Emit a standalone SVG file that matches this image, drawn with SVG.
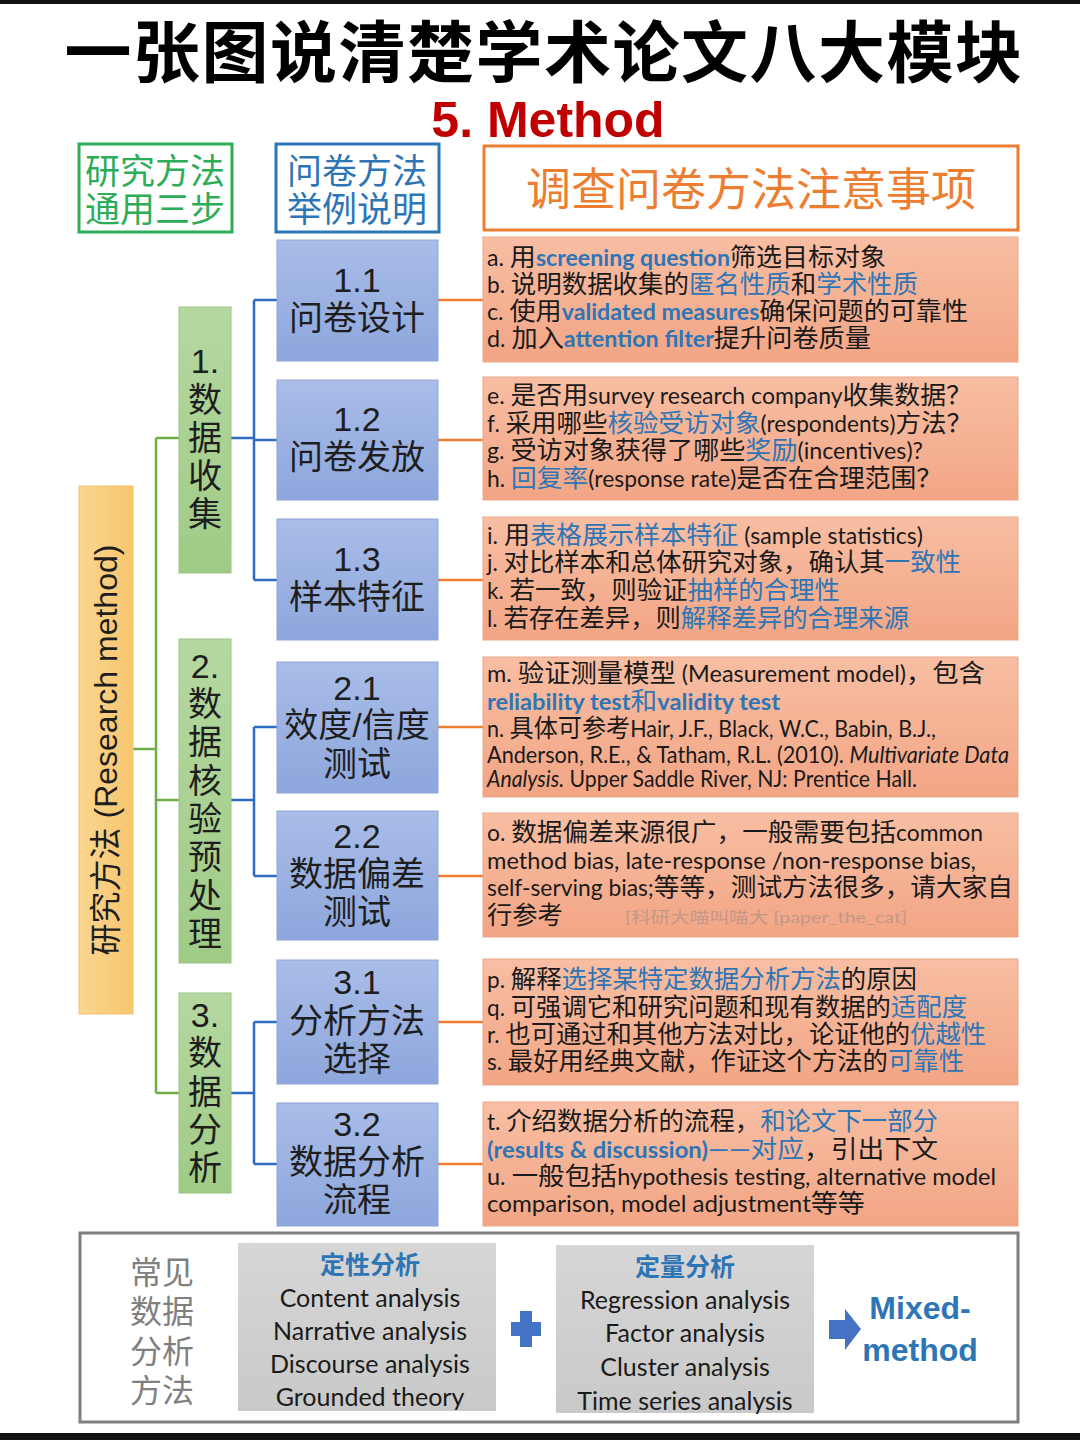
<svg xmlns="http://www.w3.org/2000/svg" width="1080" height="1440" viewBox="0 0 1080 1440">
<defs>
<linearGradient id="gBlue" x1="0" y1="0" x2="0" y2="1"><stop offset="0" stop-color="#A9BDE8"/><stop offset="1" stop-color="#8DA6DC"/></linearGradient>
<linearGradient id="gGreen" x1="0" y1="0" x2="0" y2="1"><stop offset="0" stop-color="#B5D8A0"/><stop offset="1" stop-color="#9FCB86"/></linearGradient>
<linearGradient id="gYellow" x1="0" y1="0" x2="1" y2="0"><stop offset="0" stop-color="#FBD690"/><stop offset="1" stop-color="#F7C56E"/></linearGradient>
<linearGradient id="gOrange" x1="0" y1="0" x2="0" y2="1"><stop offset="0" stop-color="#F8BEA3"/><stop offset="1" stop-color="#F2A585"/></linearGradient>
<linearGradient id="gGray" x1="0" y1="0" x2="0" y2="1"><stop offset="0" stop-color="#D6D6D6"/><stop offset="1" stop-color="#C9C9C9"/></linearGradient>
<style>
.cjk{font-family:"Noto Sans CJK SC","Liberation Sans",sans-serif}
.bx{font-family:"Liberation Sans","Noto Sans CJK SC",sans-serif;font-size:34px;fill:#1E1E1E;text-anchor:middle;dominant-baseline:central}
.st{font-family:"Liberation Sans","Noto Sans CJK SC",sans-serif;font-size:34px;fill:#1E1E1E;text-anchor:middle;dominant-baseline:central}
.tx{font-family:"Lato","Noto Sans CJK SC",sans-serif;font-size:22.5px;fill:#1A1A1A}
.c{font-size:25.3px}
.b{fill:#2E75B6}
.bb{fill:#2E75B6;font-weight:bold}
.it{font-style:italic}
.ob{fill:url(#gOrange);stroke:#E8A88A;stroke-width:1}
.blb{fill:url(#gBlue);stroke:#8FA5D4;stroke-width:1}
.gb{fill:url(#gGreen);stroke:#9CC486;stroke-width:1}
.lg{fill:none;stroke:#70AD47;stroke-width:2.5}
.lb{fill:none;stroke:#2F6DC0;stroke-width:2.5}
.lo{fill:none;stroke:#ED7D31;stroke-width:2.5}
.an{font-family:"Lato","Liberation Sans",sans-serif;font-size:25px;fill:#1A1A1A;text-anchor:middle;dominant-baseline:central}
</style>
</defs>
<rect x="0" y="0" width="1080" height="1440" fill="#FFFFFF"/>
<rect x="0" y="0" width="1080" height="4" fill="#111111"/>
<rect x="0" y="1433" width="1080" height="7" fill="#111111"/>

<g id="title">
<text x="544" y="47" class="cjk" font-size="67" font-weight="700" letter-spacing="1.5" text-anchor="middle" dominant-baseline="central" fill="#000000">一张图说清楚学术论文八大模块</text>
<text x="548" y="120" font-family="Liberation Sans,sans-serif" font-size="50" font-weight="bold" text-anchor="middle" dominant-baseline="central" fill="#C00000">5. Method</text>
</g>

<g id="hdr-green">
<rect x="79" y="144" width="153" height="88" fill="#FFFFFF" stroke="#2EAD58" stroke-width="3"/>
<text x="155" y="168" class="cjk" font-size="35" fill="#2EAD58" text-anchor="middle" dominant-baseline="central">研究方法</text>
<text x="155" y="206" class="cjk" font-size="35" fill="#2EAD58" text-anchor="middle" dominant-baseline="central">通用三步</text>
</g>
<g id="hdr-blue">
<rect x="276" y="144" width="163" height="88" fill="#FFFFFF" stroke="#2E75B6" stroke-width="3"/>
<text x="357" y="168" class="cjk" font-size="35" fill="#2E75B6" text-anchor="middle" dominant-baseline="central">问卷方法</text>
<text x="357" y="206" class="cjk" font-size="35" fill="#2E75B6" text-anchor="middle" dominant-baseline="central">举例说明</text>
</g>
<g id="hdr-orange">
<rect x="484" y="146" width="534" height="84" fill="#FFFFFF" stroke="#ED7D31" stroke-width="3"/>
<text x="751" y="186" class="cjk" font-size="45" fill="#ED7D31" text-anchor="middle" dominant-baseline="central">调查问卷方法注意事项</text>
</g>

<g id="connectors">
<path class="lg" d="M133 749 H156 M156 438 V1093 M156 438 H179 M156 800 H179 M156 1093 H179"/>
<path class="lb" d="M231 438 H254 M254 300 V580 M254 300 H277 M254 440 H277 M254 580 H277"/>
<path class="lb" d="M231 800 H254 M254 727 V876 M254 727 H277 M254 876 H277"/>
<path class="lb" d="M231 1093 H254 M254 1022 V1164 M254 1022 H277 M254 1164 H277"/>
<path class="lo" d="M438 300 H483 M438 440 H483 M438 580 H483 M438 727 H483 M438 876 H483 M438 1022 H483 M438 1164 H483"/>
</g>

<g id="root">
<rect x="79" y="486" width="54" height="528" fill="url(#gYellow)" stroke="#F2C46E" stroke-width="1"/>
<text transform="translate(106 750) rotate(-90)" x="0" y="0" font-family="Liberation Sans,Noto Sans CJK SC,sans-serif" font-size="32" fill="#1E1E1E" text-anchor="middle" dominant-baseline="central">研究方法 (Research method)</text>
</g>

<g id="step1">
<rect x="179" y="307" width="52" height="266" class="gb"/>
<text class="st" x="205" y="361">1.</text><text class="st" x="205" y="400">数</text><text class="st" x="205" y="438">据</text><text class="st" x="205" y="476">收</text><text class="st" x="205" y="514">集</text>
</g>
<g id="step2">
<rect x="179" y="639" width="52" height="324" class="gb"/>
<text class="st" x="205" y="666">2.</text><text class="st" x="205" y="704">数</text><text class="st" x="205" y="742">据</text><text class="st" x="205" y="781">核</text><text class="st" x="205" y="819">验</text><text class="st" x="205" y="857">预</text><text class="st" x="205" y="896">处</text><text class="st" x="205" y="934">理</text>
</g>
<g id="step3">
<rect x="179" y="993" width="52" height="200" class="gb"/>
<text class="st" x="205" y="1015">3.</text><text class="st" x="205" y="1053">数</text><text class="st" x="205" y="1092">据</text><text class="st" x="205" y="1130">分</text><text class="st" x="205" y="1168">析</text>
</g>

<g id="n11"><rect x="277" y="240" width="161" height="121" class="blb"/><text class="bx" x="357" y="280">1.1</text><text class="bx" x="357" y="318">问卷设计</text></g>
<g id="n12"><rect x="277" y="380" width="161" height="120" class="blb"/><text class="bx" x="357" y="419">1.2</text><text class="bx" x="357" y="457">问卷发放</text></g>
<g id="n13"><rect x="277" y="519" width="161" height="121" class="blb"/><text class="bx" x="357" y="559">1.3</text><text class="bx" x="357" y="597">样本特征</text></g>
<g id="n21"><rect x="277" y="662" width="161" height="131" class="blb"/><text class="bx" x="357" y="688">2.1</text><text class="bx" x="357" y="725">效度/信度</text><text class="bx" x="357" y="764">测试</text></g>
<g id="n22"><rect x="277" y="811" width="161" height="129" class="blb"/><text class="bx" x="357" y="836">2.2</text><text class="bx" x="357" y="874">数据偏差</text><text class="bx" x="357" y="912">测试</text></g>
<g id="n31"><rect x="277" y="960" width="161" height="124" class="blb"/><text class="bx" x="357" y="982">3.1</text><text class="bx" x="357" y="1021">分析方法</text><text class="bx" x="357" y="1059">选择</text></g>
<g id="n32"><rect x="277" y="1103" width="161" height="123" class="blb"/><text class="bx" x="357" y="1124">3.2</text><text class="bx" x="357" y="1162">数据分析</text><text class="bx" x="357" y="1200">流程</text></g>

<g id="o1"><rect x="483" y="237" width="535" height="125" class="ob"/>
<text class="tx" x="487" y="266" textLength="399" lengthAdjust="spacingAndGlyphs">a. <tspan class="c">用</tspan><tspan class="bb">screening question</tspan><tspan class="c">筛选目标对象</tspan></text>
<text class="tx" x="487" y="293" textLength="431" lengthAdjust="spacingAndGlyphs">b. <tspan class="c">说明数据收集的</tspan><tspan class="c b">匿名性质</tspan><tspan class="c">和</tspan><tspan class="c b">学术性质</tspan></text>
<text class="tx" x="487" y="320" textLength="481" lengthAdjust="spacingAndGlyphs">c. <tspan class="c">使用</tspan><tspan class="bb">validated measures</tspan><tspan class="c">确保问题的可靠性</tspan></text>
<text class="tx" x="487" y="347" textLength="384" lengthAdjust="spacingAndGlyphs">d. <tspan class="c">加入</tspan><tspan class="bb">attention filter</tspan><tspan class="c">提升问卷质量</tspan></text>
</g>
<g id="o2"><rect x="483" y="377" width="535" height="123" class="ob"/>
<text class="tx" x="487" y="404" textLength="485" lengthAdjust="spacingAndGlyphs">e. <tspan class="c">是否用</tspan>survey research company<tspan class="c">收集数据？</tspan></text>
<text class="tx" x="487" y="432" textLength="485" lengthAdjust="spacingAndGlyphs">f. <tspan class="c">采用哪些</tspan><tspan class="c b">核验受访对象</tspan>(respondents)<tspan class="c">方法？</tspan></text>
<text class="tx" x="487" y="459" textLength="436" lengthAdjust="spacingAndGlyphs">g. <tspan class="c">受访对象获得了哪些</tspan><tspan class="c b">奖励</tspan>(incentives)?</text>
<text class="tx" x="487" y="487" textLength="455" lengthAdjust="spacingAndGlyphs">h. <tspan class="c b">回复率</tspan>(response rate)<tspan class="c">是否在合理范围？</tspan></text>
</g>
<g id="o3"><rect x="483" y="517" width="535" height="123" class="ob"/>
<text class="tx" x="487" y="544" textLength="436" lengthAdjust="spacingAndGlyphs">i. <tspan class="c">用</tspan><tspan class="c b">表格展示样本特征</tspan> (sample statistics)</text>
<text class="tx" x="487" y="571" textLength="474" lengthAdjust="spacingAndGlyphs">j. <tspan class="c">对比样本和总体研究对象，确认其</tspan><tspan class="c b">一致性</tspan></text>
<text class="tx" x="487" y="599" textLength="353" lengthAdjust="spacingAndGlyphs">k. <tspan class="c">若一致，则验证</tspan><tspan class="c b">抽样的合理性</tspan></text>
<text class="tx" x="487" y="627" textLength="422" lengthAdjust="spacingAndGlyphs">l. <tspan class="c">若存在差异，则</tspan><tspan class="c b">解释差异的合理来源</tspan></text>
</g>
<g id="o4"><rect x="483" y="657" width="535" height="140" class="ob"/>
<text class="tx" x="487" y="682" textLength="498" lengthAdjust="spacingAndGlyphs">m. <tspan class="c">验证测量模型</tspan> (Measurement model)<tspan class="c">，包含</tspan></text>
<text class="tx" x="487" y="710" textLength="293" lengthAdjust="spacingAndGlyphs"><tspan class="bb">reliability test</tspan><tspan class="c b">和</tspan><tspan class="bb">validity test</tspan></text>
<text class="tx" x="487" y="737" textLength="449" lengthAdjust="spacingAndGlyphs">n. <tspan class="c">具体可参考</tspan>Hair, J.F., Black, W.C., Babin, B.J.,</text>
<text class="tx" x="487" y="763" textLength="522" lengthAdjust="spacingAndGlyphs">Anderson, R.E., &amp; Tatham, R.L. (2010). <tspan class="it">Multivariate Data</tspan></text>
<text class="tx" x="487" y="787" textLength="430" lengthAdjust="spacingAndGlyphs"><tspan class="it">Analysis.</tspan> Upper Saddle River, NJ: Prentice Hall.</text>
</g>
<g id="o5"><rect x="483" y="813" width="535" height="124" class="ob"/>
<text class="tx" x="487" y="841" textLength="496" lengthAdjust="spacingAndGlyphs">o. <tspan class="c">数据偏差来源很广，一般需要包括</tspan>common</text>
<text class="tx" x="487" y="869" textLength="489" lengthAdjust="spacingAndGlyphs">method bias, late-response /non-response bias,</text>
<text class="tx" x="487" y="896" textLength="526" lengthAdjust="spacingAndGlyphs">self-serving bias;<tspan class="c">等等，测试方法很多，请大家自</tspan></text>
<text class="tx" x="487" y="924"><tspan class="c">行参考</tspan></text>
<text x="625" y="923" font-family="Lato,Noto Sans CJK SC,sans-serif" font-size="16" fill="#C39888" textLength="282" lengthAdjust="spacingAndGlyphs">[科研大喵叫喵大 [paper_the_cat]</text>
</g>
<g id="o6"><rect x="483" y="959" width="535" height="126" class="ob"/>
<text class="tx" x="487" y="988" textLength="430" lengthAdjust="spacingAndGlyphs">p. <tspan class="c">解释</tspan><tspan class="c b">选择某特定数据分析方法</tspan><tspan class="c">的原因</tspan></text>
<text class="tx" x="487" y="1016" textLength="480" lengthAdjust="spacingAndGlyphs">q. <tspan class="c">可强调它和研究问题和现有数据的</tspan><tspan class="c b">适配度</tspan></text>
<text class="tx" x="487" y="1043" textLength="499" lengthAdjust="spacingAndGlyphs">r. <tspan class="c">也可通过和其他方法对比，论证他的</tspan><tspan class="c b">优越性</tspan></text>
<text class="tx" x="487" y="1070" textLength="477" lengthAdjust="spacingAndGlyphs">s. <tspan class="c">最好用经典文献，作证这个方法的</tspan><tspan class="c b">可靠性</tspan></text>
</g>
<g id="o7"><rect x="483" y="1102" width="535" height="124" class="ob"/>
<text class="tx" x="487" y="1130" textLength="451" lengthAdjust="spacingAndGlyphs">t. <tspan class="c">介绍数据分析的流程，</tspan><tspan class="c b">和论文下一部分</tspan></text>
<text class="tx" x="487" y="1158" textLength="451" lengthAdjust="spacingAndGlyphs"><tspan class="bb">(results &amp; discussion)</tspan><tspan class="c b">——对应</tspan><tspan class="c">，引出下文</tspan></text>
<text class="tx" x="487" y="1185" textLength="509" lengthAdjust="spacingAndGlyphs">u. <tspan class="c">一般包括</tspan>hypothesis testing, alternative model</text>
<text class="tx" x="487" y="1212" textLength="378" lengthAdjust="spacingAndGlyphs">comparison,  model adjustment<tspan class="c">等等</tspan></text>
</g>

<g id="bottom">
<rect x="80" y="1233" width="938" height="189" fill="#FFFFFF" stroke="#7F7F7F" stroke-width="3"/>
<g class="cjk" font-size="32" fill="#808080" text-anchor="middle" dominant-baseline="central">
<text x="162" y="1270">常见</text><text x="162" y="1309">数据</text><text x="162" y="1349">分析</text><text x="162" y="1388">方法</text>
</g>
<g id="qual">
<rect x="238" y="1243" width="258" height="168" fill="url(#gGray)"/>
<text x="370" y="1263" class="cjk" font-size="25" font-weight="bold" fill="#2E75B6" text-anchor="middle" dominant-baseline="central">定性分析</text>
<text class="an" x="370" y="1297">Content analysis</text>
<text class="an" x="370" y="1330">Narrative analysis</text>
<text class="an" x="370" y="1363">Discourse analysis</text>
<text class="an" x="370" y="1396">Grounded theory</text>
</g>
<polygon points="520,1311 532,1311 532,1322 541,1322 541,1336 532,1336 532,1347 520,1347 520,1336 511,1336 511,1322 520,1322" fill="#4472C4"/>
<g id="quant">
<rect x="556" y="1245" width="258" height="168" fill="url(#gGray)"/>
<text x="685" y="1265" class="cjk" font-size="25" font-weight="bold" fill="#2E75B6" text-anchor="middle" dominant-baseline="central">定量分析</text>
<text class="an" x="685" y="1299">Regression analysis</text>
<text class="an" x="685" y="1332">Factor analysis</text>
<text class="an" x="685" y="1366">Cluster analysis</text>
<text class="an" x="685" y="1400">Time series analysis</text>
</g>
<polygon points="829,1320 845,1320 845,1309 861,1329 845,1350 845,1339 829,1339" fill="#4472C4"/>
<g id="mixed" font-family="Liberation Sans,sans-serif" font-size="32" font-weight="bold" fill="#2E75B6" text-anchor="middle" dominant-baseline="central">
<text x="920" y="1308">Mixed-</text><text x="920" y="1350">method</text>
</g>
</g>
</svg>
